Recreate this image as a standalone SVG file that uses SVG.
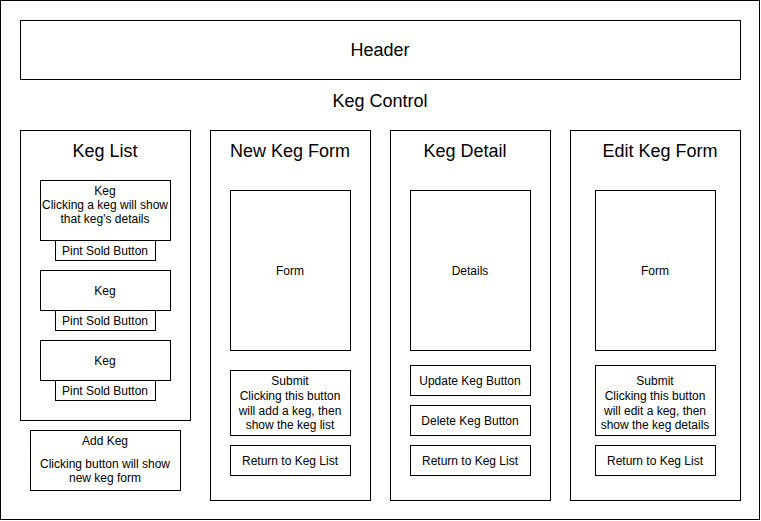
<svg xmlns="http://www.w3.org/2000/svg" width="761" height="521" viewBox="0 0 761 521">
<style>
rect{fill:#fff;stroke:#000;stroke-width:1}
text{font-family:"Liberation Sans",Arial,sans-serif;fill:#000;text-anchor:middle}
.t{font-size:18px}
.h{font-size:18px}
.s{font-size:12px}
</style>
<g id="keg-control">
<rect x="0.5" y="0.5" width="759" height="519"/>
<text class="h" x="380" y="107">Keg Control</text>
</g>
<g id="header">
<rect x="20.5" y="20.5" width="720" height="59"/>
<text class="h" x="380" y="56">Header</text>
</g>
<g id="keg-list">
<rect x="20.5" y="130.5" width="170" height="290"/>
<text class="t" x="105" y="157">Keg List</text>
</g>
<g id="keg1">
<rect x="40.5" y="180.5" width="130" height="60"/>
<text class="s" x="105" y="195">Keg</text>
<text class="s" x="105" y="209">Clicking a keg will show</text>
<text class="s" x="105" y="223">that keg's details</text>
</g>
<g id="pint1">
<rect x="55.5" y="240.5" width="100" height="20"/>
<text class="s" x="105" y="255">Pint Sold Button</text>
</g>
<g id="keg2">
<rect x="40.5" y="270.5" width="130" height="40"/>
<text class="s" x="105" y="295">Keg</text>
</g>
<g id="pint2">
<rect x="55.5" y="310.5" width="100" height="20"/>
<text class="s" x="105" y="325">Pint Sold Button</text>
</g>
<g id="keg3">
<rect x="40.5" y="340.5" width="130" height="40"/>
<text class="s" x="105" y="365">Keg</text>
</g>
<g id="pint3">
<rect x="55.5" y="380.5" width="100" height="20"/>
<text class="s" x="105" y="395">Pint Sold Button</text>
</g>
<g id="add-keg">
<rect x="30.5" y="430.5" width="150" height="60"/>
<text class="s" x="105" y="445">Add Keg</text>
<text class="s" x="105" y="468">Clicking button will show</text>
<text class="s" x="105" y="482">new keg form</text>
</g>
<g id="new-keg-form">
<rect x="210.5" y="130.5" width="160" height="370"/>
<text class="t" x="290" y="157">New Keg Form</text>
</g>
<g id="nk-form">
<rect x="230.5" y="190.5" width="120" height="160"/>
<text class="s" x="290" y="275">Form</text>
</g>
<g id="nk-submit">
<rect x="230.5" y="370.5" width="120" height="65"/>
<text class="s" x="290" y="385">Submit</text>
<text class="s" x="290" y="400">Clicking this button</text>
<text class="s" x="290" y="415">will add a keg, then</text>
<text class="s" x="290" y="429">show the keg list</text>
</g>
<g id="nk-return">
<rect x="230.5" y="445.5" width="120" height="30"/>
<text class="s" x="290" y="465">Return to Keg List</text>
</g>
<g id="keg-detail">
<rect x="390.5" y="130.5" width="160" height="370"/>
<text class="t" x="465" y="157">Keg Detail</text>
</g>
<g id="kd-details">
<rect x="410.5" y="190.5" width="120" height="160"/>
<text class="s" x="470" y="275">Details</text>
</g>
<g id="kd-update">
<rect x="410.5" y="365.5" width="120" height="30"/>
<text class="s" x="470" y="385">Update Keg Button</text>
</g>
<g id="kd-delete">
<rect x="410.5" y="405.5" width="120" height="30"/>
<text class="s" x="470" y="425">Delete Keg Button</text>
</g>
<g id="kd-return">
<rect x="410.5" y="445.5" width="120" height="30"/>
<text class="s" x="470" y="465">Return to Keg List</text>
</g>
<g id="edit-keg-form">
<rect x="570.5" y="130.5" width="170" height="370"/>
<text class="t" x="660" y="157">Edit Keg Form</text>
</g>
<g id="ek-form">
<rect x="595.5" y="190.5" width="120" height="160"/>
<text class="s" x="655" y="275">Form</text>
</g>
<g id="ek-submit">
<rect x="595.5" y="365.5" width="120" height="70"/>
<text class="s" x="655" y="385">Submit</text>
<text class="s" x="655" y="400">Clicking this button</text>
<text class="s" x="655" y="415">will edit a keg, then</text>
<text class="s" x="655" y="429">show the keg details</text>
</g>
<g id="ek-return">
<rect x="595.5" y="445.5" width="120" height="30"/>
<text class="s" x="655" y="465">Return to Keg List</text>
</g>
<g id="connectors"></g>
</svg>
